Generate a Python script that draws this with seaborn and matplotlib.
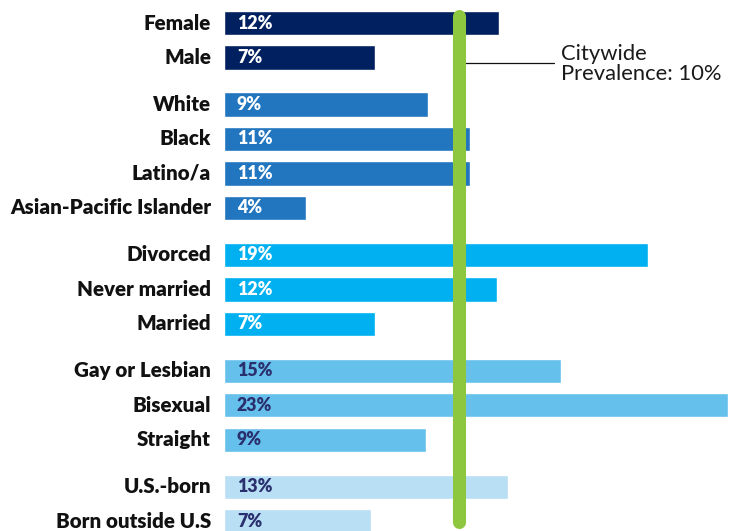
import numpy as np
import pandas as pd
import matplotlib.pyplot as plt
import seaborn as sns

# rows top to bottom, grouped
categories = ["Female", "Male",
              "White", "Black", "Latino/a", "Asian-Pacific Islander",
              "Divorced", "Never married", "Married",
              "Gay or Lesbian", "Bisexual", "Straight",
              "U.S.-born", "Born outside U.S"]
groups = ["sex", "sex",
          "race", "race", "race", "race",
          "marital", "marital", "marital",
          "orientation", "orientation", "orientation",
          "nativity", "nativity"]
values = [12.4, 6.8, 9.2, 11.1, 11.1, 3.7, 19.1, 12.3, 6.8, 15.2, 22.7, 9.1, 12.8, 6.6]
value_labels = ["12%", "7%", "9%", "11%", "11%", "4%", "19%", "12%", "7%",
                "15%", "23%", "9%", "13%", "7%"]
citywide = 10.6
citywide_label = "Citywide\nPrevalence: 10%"

group_colors = {"sex": "#00205f", "race": "#2176bf", "marital": "#00b0f0",
                "orientation": "#66c0ec", "nativity": "#b8dff4"}
label_colors = {"sex": "white", "race": "white", "marital": "white",
                "orientation": "#2a2f6e", "nativity": "#2a2f6e"}

GROUP_GAP = 0.36

def build_frame():
    order = list(dict.fromkeys(groups))
    pos = [i + order.index(g) * GROUP_GAP for i, g in enumerate(groups)]
    return pd.DataFrame({"category": categories, "group": groups,
                         "value": values, "label": value_labels, "pos": pos})

def main():
    df = build_frame()
    sns.set_style("white")
    plt.rcParams["font.family"] = ["Lato", "DejaVu Sans"]

    fig = plt.figure(figsize=(7.4, 5.31), dpi=100)
    ax = fig.add_axes([224 / 740, 0, 516 / 740, 1])

    sns.barplot(data=df, x="value", y="pos", hue="group", palette=group_colors,
                orient="h", native_scale=True, dodge=False, width=0.7,
                saturation=1, legend=False, ax=ax)

    ax.set_xlim(0, 516 / 22.2)
    ax.set_ylim(14.72, -0.667)

    # category names to the left, value labels inside the bars
    for _, r in df.iterrows():
        ax.text(-0.585, r["pos"], r["category"], ha="right", va="center",
                fontsize=14.8, fontweight="heavy", color="#111111")
        ax.text(0.585, r["pos"], r["label"], ha="left", va="center",
                fontsize=12.8, fontweight="heavy", color=label_colors[r["group"]])

    # citywide reference line
    ax.plot([citywide, citywide], [-0.217, 14.45], color="#8dc63f", lw=9.4,
            solid_capstyle="round", clip_on=False, zorder=5)
    ax.plot([10.86, 14.86], [1.16, 1.16], color="#111111", lw=0.9, zorder=4)
    ax.text(15.18, 1.2, citywide_label, ha="left", va="center", fontsize=15.8,
            color="#1a1a1a", linespacing=1.0)

    ax.set_xlabel("")
    ax.set_ylabel("")
    ax.set_xticks([])
    ax.set_yticks([])
    sns.despine(ax=ax, left=True, bottom=True)

    fig.savefig("out.png", dpi=100)
    plt.close()

if __name__ == "__main__":
    main()
